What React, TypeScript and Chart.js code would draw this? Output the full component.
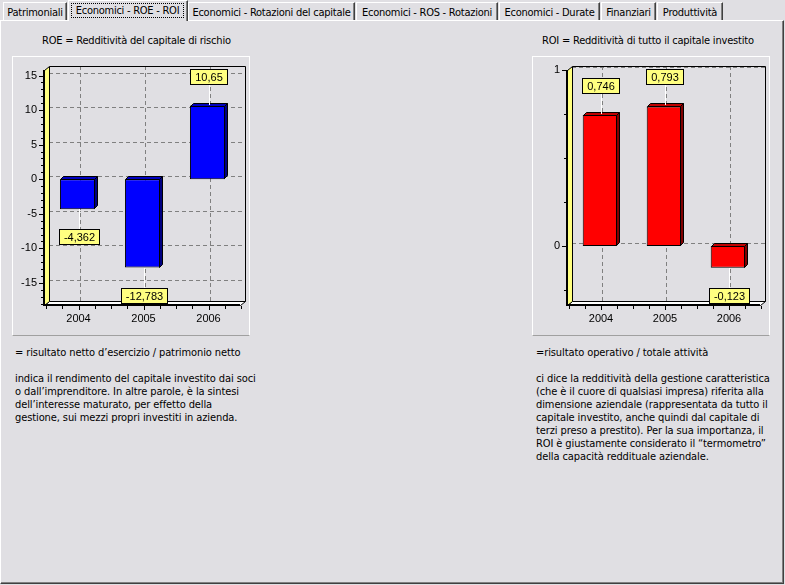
import React, { useEffect, useRef } from 'react';
import { Chart, registerables } from 'chart.js';
Chart.register(...registerables);

// ---------- data ----------
const years = ['2004', '2005', '2006'];
const roeValues = [-4.362, -12.783, 10.65];
const roiValues = [0.746, 0.793, -0.123];
const roeTicks = [15, 10, 5, 0, -5, -10, -15];
const roiTicks = [1, 0];
const roeMinorStep = 1;
const roiMinorStep = 0.25;
const roeRange = [-18.2, 15.8];
const roiRange = [-0.335, 1.0];

const tabNames = [
  'Patrimoniali',
  'Economici - ROE - ROI',
  'Economici - Rotazioni del capitale',
  'Economici - ROS - Rotazioni',
  'Economici - Durate',
  'Finanziari',
  'Produttività',
];
const selectedTab = 1;

const roeTitle = 'ROE = Redditività del capitale di rischio';
const roiTitle = 'ROI = Redditività di tutto il capitale investito';
const roeText = [
  '= risultato netto d’esercizio / patrimonio netto',
  '',
  'indica il rendimento del capitale investito dai soci',
  'o dall’imprenditore. In altre parole, è la sintesi',
  'dell’interesse maturato, per effetto della',
  'gestione, sui mezzi propri investiti in azienda.',
];
const roiText = [
  '=risultato operativo / totale attività',
  '',
  'ci dice la redditività della gestione caratteristica',
  '(che è il cuore di qualsiasi impresa) riferita alla',
  'dimensione aziendale (rappresentata da tutto il',
  'capitale investito, anche quindi dal capitale di',
  'terzi preso a prestito). Per la sua importanza, il',
  'ROI è giustamente considerato il “termometro”',
  'della capacità reddituale aziendale.',
];

// ---------- layout / style ----------
const BG = '#E0DFE3';
const UI_FONT = '"DejaVu Sans Condensed", "Liberation Sans", Arial, sans-serif';
const CH_FONT = '11px "Liberation Sans", Arial, sans-serif';
const tabEdges = [3, 68, 188, 356, 499, 601, 657, 724];
const WD = 5;
const WDY = 4;
const BD = 3;

const fmt = (v: number) => String(v).replace('.', ',');

const chart3d = {
  id: 'chart3d',
  beforeDatasetsDraw(chart: any) {
    const o = chart.options.plugins.chart3d;
    const { ctx, chartArea: a, scales } = chart;
    const xs = scales.x;
    const ys = scales.y;
    const L = a.left - 1;
    const R = a.right;
    const T = a.top;
    const B = a.bottom;
    const n = chart.data.labels.length;
    ctx.save();
    // grid on back wall
    ctx.strokeStyle = '#808080';
    ctx.lineWidth = 1;
    ctx.setLineDash([4, 3]);
    ctx.beginPath();
    for (const v of o.ticks) {
      const yy = Math.round(ys.getPixelForValue(v) - 3) + 0.5;
      ctx.moveTo(L + WD, yy);
      ctx.lineTo(R + WD, yy);
    }
    for (let i = 0; i < n; i++) {
      const xx = Math.round(xs.getPixelForValue(i) + 2) + 0.5;
      ctx.moveTo(xx, T - WDY);
      ctx.lineTo(xx, B - WDY);
    }
    ctx.stroke();
    ctx.setLineDash([]);
    // back wall outline
    ctx.strokeStyle = '#000';
    ctx.beginPath();
    ctx.moveTo(L + WD + 0.5, T - WDY + 0.5);
    ctx.lineTo(R + WD + 0.5, T - WDY + 0.5);
    ctx.lineTo(R + WD + 0.5, B - WDY + 0.5);
    ctx.stroke();
    // floor
    ctx.beginPath();
    ctx.moveTo(L + 0.5, B + 0.5);
    ctx.lineTo(R + 0.5, B + 0.5);
    ctx.lineTo(R + WD + 0.5, B - WDY + 0.5);
    ctx.lineTo(L + WD + 0.5, B - WDY + 0.5);
    ctx.closePath();
    ctx.fillStyle = '#FFFFFF';
    ctx.fill();
    ctx.stroke();
    // left wall
    ctx.beginPath();
    ctx.moveTo(L + 0.5, T + 0.5);
    ctx.lineTo(L + WD + 0.5, T - WDY + 0.5);
    ctx.lineTo(L + WD + 0.5, B - WDY + 0.5);
    ctx.lineTo(L + 0.5, B + 0.5);
    ctx.closePath();
    ctx.fillStyle = '#FFFF80';
    ctx.fill();
    ctx.stroke();
    // front axes
    ctx.lineWidth = 2;
    ctx.beginPath();
    ctx.moveTo(L, T);
    ctx.lineTo(L, B);
    ctx.lineTo(R, B);
    ctx.stroke();
    // y ticks
    ctx.lineWidth = 1;
    ctx.beginPath();
    const step = o.minorStep;
    for (let v = Math.ceil(ys.min / step) * step; v <= ys.max + 1e-9; v += step) {
      const yy = Math.round(ys.getPixelForValue(v)) + 0.5;
      ctx.moveTo(L - 3, yy);
      ctx.lineTo(L - 1, yy);
    }
    for (const v of o.ticks) {
      const yy = Math.round(ys.getPixelForValue(v)) + 0.5;
      ctx.moveTo(L - 5, yy);
      ctx.lineTo(L - 1, yy);
    }
    // x ticks
    const s = xs.getPixelForValue(1) - xs.getPixelForValue(0);
    for (let j = 0; j <= 4 * n; j++) {
      const xx = Math.round(a.left + (j * s) / 4 + 1) + 0.5;
      const major = j % 4 === 2;
      ctx.moveTo(xx, B + 1);
      ctx.lineTo(xx, B + (major ? 5 : 4));
    }
    ctx.stroke();
    // labels
    ctx.fillStyle = '#000';
    ctx.font = CH_FONT;
    ctx.textAlign = 'right';
    ctx.textBaseline = 'middle';
    for (const v of o.ticks) {
      ctx.fillText(String(v), L - 7, ys.getPixelForValue(v));
    }
    ctx.textAlign = 'center';
    for (let i = 0; i < n; i++) {
      ctx.fillText(chart.data.labels[i], xs.getPixelForValue(i) + 1, B + 14);
    }
    ctx.restore();
  },
  afterDatasetsDraw(chart: any) {
    const o = chart.options.plugins.chart3d;
    const { ctx } = chart;
    const meta = chart.getDatasetMeta(0);
    const values = chart.data.datasets[0].data;
    ctx.save();
    ctx.lineWidth = 1;
    ctx.strokeStyle = '#000';
    meta.data.forEach((el: any) => {
      const p = el.getProps(['x', 'y', 'base', 'width'], true);
      const l = Math.round(p.x - p.width / 2) + 0.5;
      const r = Math.round(p.x + p.width / 2) - 0.5;
      const t = Math.round(Math.min(p.y, p.base)) + 0.5;
      const b = Math.round(Math.max(p.y, p.base)) - 0.5;
      ctx.beginPath();
      ctx.moveTo(l, t);
      ctx.lineTo(l + BD, t - BD);
      ctx.lineTo(r + BD, t - BD);
      ctx.lineTo(r, t);
      ctx.closePath();
      ctx.fillStyle = o.topColor;
      ctx.fill();
      ctx.stroke();
      ctx.beginPath();
      ctx.moveTo(r, t);
      ctx.lineTo(r + BD, t - BD);
      ctx.lineTo(r + BD, b - BD);
      ctx.lineTo(r, b);
      ctx.closePath();
      ctx.fillStyle = o.sideColor;
      ctx.fill();
      ctx.stroke();
    });
    // value marks
    ctx.font = CH_FONT;
    ctx.textAlign = 'center';
    ctx.textBaseline = 'middle';
    meta.data.forEach((el: any, i: number) => {
      const v = values[i] as number;
      const p = el.getProps(['x', 'y', 'base', 'width'], true);
      const text = fmt(v);
      const tw = Math.round(ctx.measureText(text).width);
      const bw = tw + 10;
      const bh = 16;
      const cx = Math.round(p.x + 1);
      const lx = cx + 0.5;
      let by: number;
      ctx.strokeStyle = '#FFFFFF';
      ctx.beginPath();
      if (v >= 0) {
        const top = Math.round(p.y);
        by = top - 21 - bh;
        ctx.moveTo(lx, top - 1);
        ctx.lineTo(lx, by + bh);
      } else {
        const bot = Math.round(p.y);
        by = bot + 20;
        ctx.moveTo(lx, bot);
        ctx.lineTo(lx, by);
      }
      ctx.stroke();
      const bx = Math.round(cx - bw / 2);
      ctx.fillStyle = '#FFFF80';
      ctx.fillRect(bx, by, bw, bh);
      ctx.strokeStyle = '#000';
      ctx.strokeRect(bx + 0.5, by + 0.5, bw - 1, bh - 1);
      ctx.fillStyle = '#000';
      ctx.fillText(text, bx + bw / 2, by + bh / 2 + 0.5);
    });
    ctx.restore();
  },
};

type BarProps = {
  values: number[];
  ticks: number[];
  range: number[];
  minorStep: number;
  color: string;
  topColor: string;
  sideColor: string;
  padLeft: number;
  left: number;
};

function Bar3D(props: BarProps) {
  const ref = useRef<HTMLCanvasElement>(null);
  useEffect(() => {
    const chart = new Chart(ref.current as HTMLCanvasElement, {
      type: 'bar',
      data: {
        labels: years,
        datasets: [
          {
            data: props.values,
            backgroundColor: props.color,
            borderColor: '#000000',
            borderWidth: 1,
            borderSkipped: false,
            barPercentage: 0.54,
            categoryPercentage: 1,
          },
        ],
      },
      options: {
        responsive: false,
        animation: false,
        devicePixelRatio: 1,
        events: [],
        layout: { padding: { left: props.padLeft, right: 9, top: 13, bottom: 30 } },
        scales: {
          x: { display: false },
          y: { display: false, min: props.range[0], max: props.range[1] },
        },
        plugins: {
          legend: { display: false },
          tooltip: { enabled: false },
          chart3d: {
            ticks: props.ticks,
            minorStep: props.minorStep,
            topColor: props.topColor,
            sideColor: props.sideColor,
          },
        } as any,
      },
      plugins: [chart3d as any],
    });
    return () => chart.destroy();
  }, []);
  return (
    <div
      style={{
        position: 'absolute',
        left: props.left,
        top: 56,
        width: 238,
        height: 280,
        boxSizing: 'border-box',
        borderTop: '1px solid #FFFFFF',
        borderLeft: '1px solid #FFFFFF',
        borderRight: '1px solid #FFFFFF',
        borderBottom: '1px solid #A0A0A0',
      }}
    >
      <canvas ref={ref} width={236} height={278} style={{ display: 'block' }} />
    </div>
  );
}

function TextBlock({ lines, left, top }: { lines: string[]; left: number; top: number }) {
  return (
    <div
      style={{
        position: 'absolute',
        left,
        top,
        fontFamily: UI_FONT,
        fontSize: 11,
        lineHeight: '13px',
        whiteSpace: 'pre',
        letterSpacing: '-0.1px',
        color: '#000',
      }}
    >
      {lines.map((l, i) => (
        <div key={i} style={{ height: 13 }}>
          {l}
        </div>
      ))}
    </div>
  );
}

export default function App() {
  return (
    <div
      style={{
        position: 'fixed',
        left: 0,
        top: 0,
        width: 785,
        height: 585,
        background: BG,
        overflow: 'hidden',
        fontFamily: UI_FONT,
        fontSize: 11,
      }}
    >
      {/* panel */}
      <div
        style={{
          position: 'absolute',
          left: 0,
          top: 20,
          width: 784,
          height: 564,
          boxSizing: 'border-box',
          borderTop: '1px solid #FFFFFF',
          borderLeft: '1px solid #FFFFFF',
          borderRight: '1px solid #404040',
          borderBottom: '1px solid #404040',
          boxShadow: 'inset -1px -1px 0 #808080',
          background: BG,
        }}
      />
      {/* tabs */}
      {tabNames.map((name, i) => {
        const sel = i === selectedTab;
        const left = tabEdges[i];
        const width = tabEdges[i + 1] - tabEdges[i] - (sel ? 0 : 1);
        return (
          <div
            key={name}
            style={{
              position: 'absolute',
              left,
              top: sel ? 0 : 2,
              width,
              height: sel ? 21 : 18,
              boxSizing: 'border-box',
              borderTop: '1px solid #FFFFFF',
              borderLeft: '1px solid #FFFFFF',
              borderRight: '1px solid #404040',
              boxShadow: 'inset -1px 0 0 #808080',
              background: BG,
              textAlign: 'center',
              whiteSpace: 'nowrap',
              letterSpacing: '-0.25px',
              zIndex: sel ? 2 : 1,
              color: '#000',
            }}
          >
            {sel ? (
              <div
                style={{
                  position: 'absolute',
                  left: 2,
                  right: 3,
                  top: 2,
                  height: 15,
                  boxSizing: 'border-box',
                  border: '1px dotted #000',
                  lineHeight: '13px',
                }}
              >
                {name}
              </div>
            ) : (
              <div style={{ lineHeight: '17px', paddingTop: 1 }}>{name}</div>
            )}
          </div>
        );
      })}
      {/* titles */}
      <div style={{ position: 'absolute', left: 42, top: 34, lineHeight: '13px', whiteSpace: 'pre', letterSpacing: '-0.2px' }}>{roeTitle}</div>
      <div style={{ position: 'absolute', left: 542, top: 34, lineHeight: '13px', whiteSpace: 'pre', letterSpacing: '-0.2px' }}>{roiTitle}</div>
      {/* charts */}
      <Bar3D
        values={roeValues}
        ticks={roeTicks}
        range={roeRange}
        minorStep={roeMinorStep}
        color="#0000FF"
        topColor="#0000C0"
        sideColor="#000080"
        padLeft={32}
        left={12}
      />
      <Bar3D
        values={roiValues}
        ticks={roiTicks}
        range={roiRange}
        minorStep={roiMinorStep}
        color="#FF0000"
        topColor="#C00000"
        sideColor="#800000"
        padLeft={35}
        left={532}
      />
      {/* descriptions */}
      <TextBlock lines={roeText} left={15} top={346} />
      <TextBlock lines={roiText} left={536} top={346} />
    </div>
  );
}
